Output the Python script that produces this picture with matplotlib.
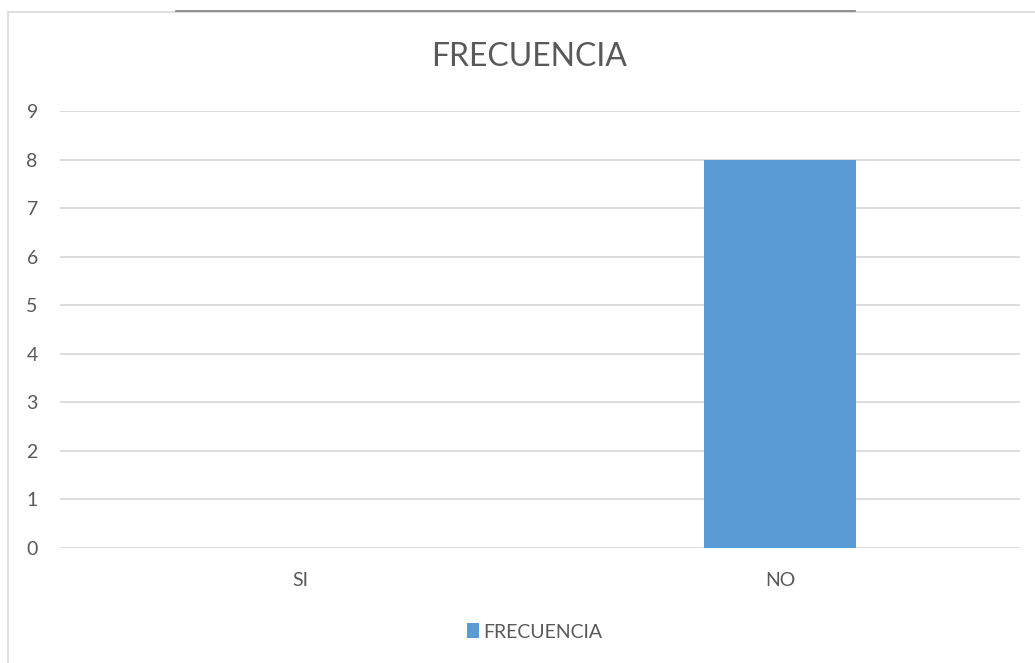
import matplotlib.pyplot as plt
from matplotlib.lines import Line2D

### DATA ###
categories = ["SI", "NO"]
frecuencia = [0, 8]
y_ticks = [0, 1, 2, 3, 4, 5, 6, 7, 8, 9]
title_text = "FRECUENCIA"
legend_label = "FRECUENCIA"

### STYLE ###
BAR_COLOR = "#5b9bd5"
TEXT_COLOR = "#595959"
GRID_COLOR = "#d9d9d9"
W, H = 1035, 663

plt.rcParams["font.family"] = ["Lato", "DejaVu Sans"]

fig = plt.figure(figsize=(W / 100, H / 100), dpi=100)

# outer chart frame (left and top edges visible in the original)
fig.add_artist(Line2D([8 / W, 8 / W], [0, 1 - 12 / H], color=GRID_COLOR, lw=1.2,
                      transform=fig.transFigure))
fig.add_artist(Line2D([8 / W, 1], [1 - 12 / H, 1 - 12 / H], color=GRID_COLOR, lw=1.2,
                      transform=fig.transFigure))
fig.add_artist(Line2D([176 / W, 855 / W], [1 - 11 / H, 1 - 11 / H], color="#7f7f7f", lw=1.2,
                      transform=fig.transFigure))

ax = fig.add_axes([60 / W, 115 / H, 960 / W, 437 / H])
x = list(range(len(categories)))
ax.bar(x, frecuencia, width=0.315, color=BAR_COLOR, label=legend_label, zorder=3)

ax.set_xlim(-0.5, len(categories) - 0.5)
ax.set_ylim(0, 9)
ax.set_yticks(y_ticks)
ax.set_xticks(x)
ax.set_xticklabels(categories)
ax.tick_params(axis="both", length=0, colors=TEXT_COLOR, labelsize=14)
ax.tick_params(axis="y", pad=16)
ax.tick_params(axis="x", pad=17)
ax.grid(axis="y", color=GRID_COLOR, lw=1.3, zorder=0)
for s in ax.spines.values():
    s.set_visible(False)

fig.text(529 / W, 1 - 57 / H, title_text, ha="center", va="center", fontsize=23, color=TEXT_COLOR)

leg = fig.legend(loc="center", bbox_to_anchor=(535 / W, 1 - 632 / H), frameon=False,
                 fontsize=14, handlelength=0.6, handleheight=0.8, handletextpad=0.25,
                 labelcolor=TEXT_COLOR)

fig.savefig("out.png", dpi=100)
